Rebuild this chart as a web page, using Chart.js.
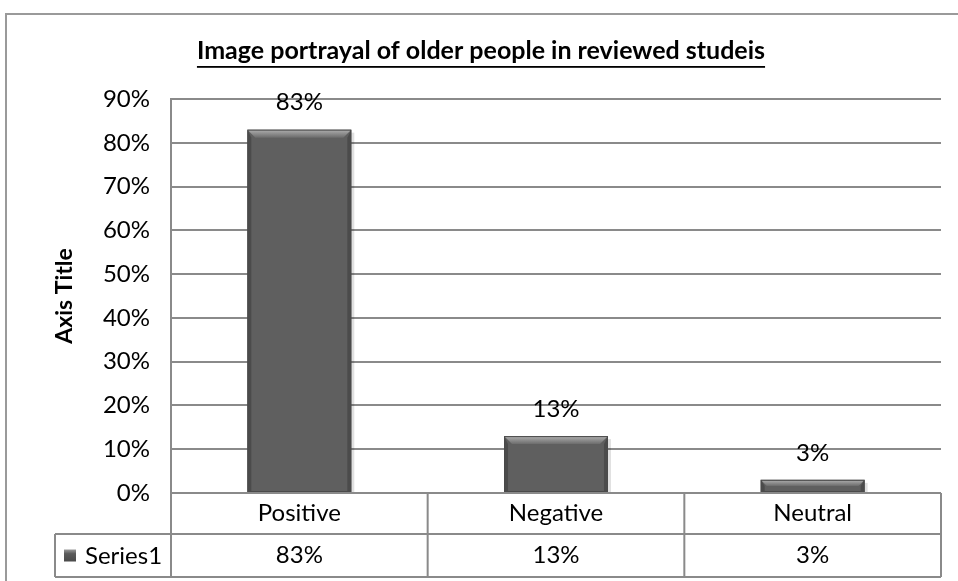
<!DOCTYPE html>
<html>
<head>
<meta charset="utf-8">
<script src="https://cdn.jsdelivr.net/npm/chart.js@4.4.1/dist/chart.umd.min.js"></script>
<style>
  html, body { margin: 0; padding: 0; background: #fff; }
  #wrap { width: 958px; height: 581px; }
</style>
</head>
<body>
<div id="wrap"><canvas id="portrayal" width="958" height="581"></canvas></div>
<script>
// categories and values (percent)
const categories = ['Positive', 'Negative', 'Neutral'];
const shares = [83, 13, 3];
const seriesName = 'Series1';
const yTicks = [0, 10, 20, 30, 40, 50, 60, 70, 80, 90];
const chartTitle = 'Image portrayal of older people in reviewed studeis';

const FONT = 'Lato, "Open Sans", sans-serif';
const FS = 24;
const LINE = '#8a8a8a';

// outer frame + underlined title
const framePlugin = {
  id: 'frame',
  beforeDraw(chart) {
    const ctx = chart.ctx;
    ctx.save();
    ctx.fillStyle = '#fff';
    ctx.fillRect(0, 0, chart.width, chart.height);
    ctx.strokeStyle = '#9a9a9a';
    ctx.lineWidth = 2;
    ctx.strokeRect(6, 14, chart.width + 20, chart.height + 20);

    ctx.font = 'bold 25px ' + FONT;
    ctx.fillStyle = '#000';
    ctx.textAlign = 'center';
    ctx.textBaseline = 'middle';
    const cx = 481;
    ctx.fillText(chartTitle, cx, 51);
    const w = ctx.measureText(chartTitle).width;
    ctx.fillRect(cx - w / 2, 66, w, 1.8);
    ctx.restore();
  }
};

// bevelled bars, value labels, data table
const barDecor = {
  id: 'barDecor',
  afterDatasetsDraw(chart) {
    const ctx = chart.ctx;
    const meta = chart.getDatasetMeta(0);
    ctx.save();
    meta.data.forEach((bar, i) => {
      const l = bar.x - bar.width / 2, r = bar.x + bar.width / 2;
      const t = bar.y, b = bar.base;
      const h = b - t;
      const bev = Math.min(8, h / 2);
      // top bevel
      const g = ctx.createLinearGradient(0, t, 0, t + bev);
      g.addColorStop(0, '#b0b0b0');
      g.addColorStop(1, '#6c6c6c');
      ctx.fillStyle = g;
      ctx.beginPath();
      ctx.moveTo(l, t); ctx.lineTo(r, t); ctx.lineTo(r - bev, t + bev); ctx.lineTo(l + bev, t + bev);
      ctx.closePath(); ctx.fill();
      // side bevels
      ctx.fillStyle = 'rgba(40,40,40,0.35)';
      ctx.beginPath();
      ctx.moveTo(l, t); ctx.lineTo(l + 4, t + bev); ctx.lineTo(l + 4, b); ctx.lineTo(l, b);
      ctx.closePath(); ctx.fill();
      ctx.beginPath();
      ctx.moveTo(r, t); ctx.lineTo(r - 4, t + bev); ctx.lineTo(r - 4, b); ctx.lineTo(r, b);
      ctx.closePath(); ctx.fill();
      // soft shadow on the right
      ctx.fillStyle = 'rgba(0,0,0,0.12)';
      ctx.fillRect(r, t + 3, 3, h - 3);
      ctx.strokeStyle = '#4a4a4a';
      ctx.lineWidth = 1;
      ctx.strokeRect(l + 0.5, t + 0.5, bar.width - 1, h - 1);

      // value label
      ctx.font = FS + 'px ' + FONT;
      ctx.fillStyle = '#000';
      ctx.textAlign = 'center';
      ctx.textBaseline = 'middle';
      ctx.fillText(shares[i] + '%', bar.x, t - 27);
    });
    ctx.restore();
  },
  afterDraw(chart) {
    const ctx = chart.ctx;
    const area = chart.chartArea;
    const x = chart.scales.x;
    const top = area.bottom, mid = top + 41, bot = top + 84;
    const legendLeft = 55;
    const half = (x.getPixelForValue(1) - x.getPixelForValue(0)) / 2;
    ctx.save();
    ctx.strokeStyle = LINE;
    ctx.lineWidth = 2;
    ctx.beginPath();
    ctx.moveTo(area.left, top); ctx.lineTo(area.right, top);
    ctx.moveTo(legendLeft, mid); ctx.lineTo(area.right, mid);
    ctx.moveTo(legendLeft, bot); ctx.lineTo(area.right, bot);
    ctx.moveTo(legendLeft, mid); ctx.lineTo(legendLeft, bot);
    ctx.moveTo(area.left, top); ctx.lineTo(area.left, bot);
    categories.forEach((c, i) => {
      const xr = x.getPixelForValue(i) + half;
      ctx.moveTo(xr, top); ctx.lineTo(xr, bot);
    });
    ctx.stroke();

    ctx.font = FS + 'px ' + FONT;
    ctx.fillStyle = '#000';
    ctx.textAlign = 'center';
    ctx.textBaseline = 'middle';
    categories.forEach((c, i) => {
      const cx = x.getPixelForValue(i);
      ctx.fillText(c, cx, (top + mid) / 2);
      ctx.fillText(shares[i] + '%', cx, (mid + bot) / 2);
    });

    // legend key
    const ky = (mid + bot) / 2;
    const g = ctx.createLinearGradient(0, ky - 6, 0, ky + 6);
    g.addColorStop(0, '#9a9a9a');
    g.addColorStop(0.35, '#5a5a5a');
    g.addColorStop(1, '#4a4a4a');
    ctx.fillStyle = g;
    ctx.fillRect(64, ky - 6, 12, 12);
    ctx.fillStyle = '#000';
    ctx.textAlign = 'left';
    ctx.fillText(seriesName, 85, ky + 1);
    ctx.restore();
  }
};

new Chart(document.getElementById('portrayal'), {
  type: 'bar',
  data: {
    labels: categories,
    datasets: [{
      label: seriesName,
      data: shares,
      backgroundColor: '#5f5f5f',
      borderWidth: 0,
      barPercentage: 0.405,
      categoryPercentage: 1
    }]
  },
  options: {
    responsive: false,
    animation: false,
    layout: { padding: { top: 99, left: 5, right: 17, bottom: 88 } },
    plugins: {
      legend: { display: false },
      tooltip: { enabled: false },
      title: { display: false }
    },
    scales: {
      x: { display: false },
      y: {
        min: 0,
        max: 90,
        afterFit(scale) { scale.width = 166; },
        afterBuildTicks(scale) { scale.ticks = yTicks.map(v => ({ value: v })); },
        ticks: {
          padding: 21,
          color: '#000',
          font: { family: FONT, size: FS },
          callback: v => v + '%'
        },
        grid: { color: LINE, lineWidth: 2, drawTicks: false },
        border: { display: true, color: LINE, width: 2 },
        title: {
          display: true,
          text: 'Axis Title',
          color: '#000',
          font: { family: FONT, size: 23, weight: 'bold' },
          padding: { top: 46, bottom: 0 }
        }
      }
    }
  },
  plugins: [framePlugin, barDecor]
});
</script>
</body>
</html>
